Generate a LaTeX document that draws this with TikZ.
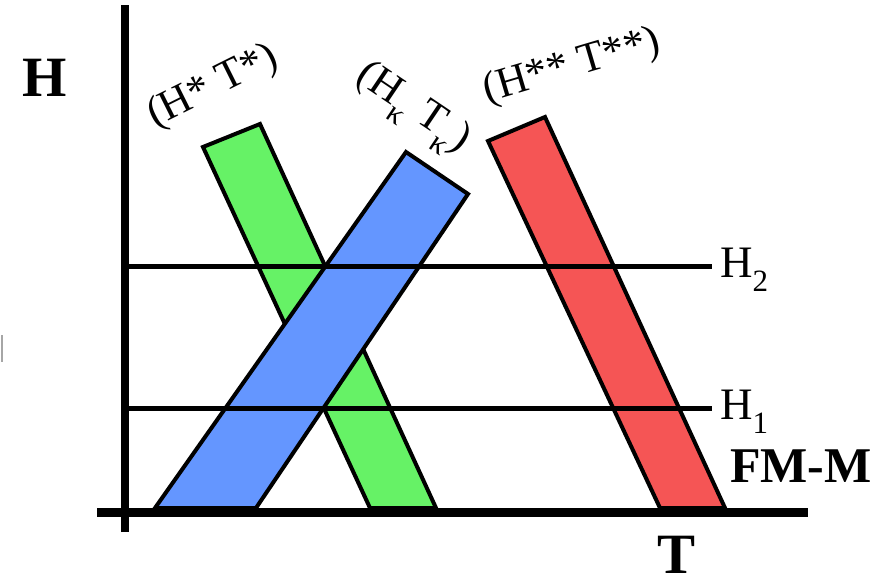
\documentclass[tikz,border=0pt]{standalone}
\usepackage{fontspec}
\setmainfont{Liberation Serif}
\usetikzlibrary{positioning}
\definecolor{bandgreen}{RGB}{102,242,102}
\definecolor{bandblue}{RGB}{100,150,255}
\definecolor{bandred}{RGB}{245,85,85}
\newcommand{\lowsub}[1]{\raisebox{-0.33em}{\fontsize{31}{31}\selectfont #1}}
\begin{document}
\begin{tikzpicture}[x=1pt,y=-1pt,band/.style={draw=black,line width=4pt,line join=miter},hline/.style={line width=5pt},lab/.style={inner sep=0pt,font=\fontsize{43}{43}\selectfont},axlab/.style={inner sep=0pt,font=\fontsize{57}{57}\selectfont\bfseries}]
\useasboundingbox (0,0) rectangle (893,585);
\draw[band,fill=bandgreen](203,147)--(260,124)--(436,508)--(370,508)--cycle;
\draw[band,fill=bandblue](155,508)--(406,152)--(468,194)--(256,508)--cycle;
\draw[band,fill=bandred](488,141)--(545,117)--(725,508)--(660,508)--cycle;
\coordinate (h2a) at (125,266);
\coordinate (h1a) at (125,408);
\node[anchor=base west,inner sep=0pt,font=\fontsize{45}{45}\selectfont] (H2) at (720,277) {H\lowsub{2}};
\node[anchor=base west,inner sep=0pt,font=\fontsize{45}{45}\selectfont] (H1) at (720,419) {H\lowsub{1}};
\draw[hline,shorten >=8pt](h2a)--(H2.west |- h2a);
\draw[hline,shorten >=8pt](h1a)--(H1.west |- h1a);
\coordinate (ytop) at (125,5);
\coordinate (ybot) at (125,532);
\coordinate (xl) at (97,512);
\coordinate (xr) at (808,512);
\draw[line width=8pt](ybot)--(ytop);
\draw[line width=9pt](xl)--(xr);
\node[axlab] (Hax) at (45,78) {H};
\node[axlab] (Tax) at (676,555) {T};
\node[inner sep=0pt,font=\fontsize{50}{50}\selectfont\bfseries] (fmm) at (801,466) {FM-M};
\node[lab,rotate=26.5] (star1) at (213,87) {(H* T*)};
\node[lab,rotate=-34] (kap) at (412,110) {(H\lowsub{κ} T\lowsub{κ})};
\node[lab,rotate=16.5] (star2) at (572,67) {(H** T**)};
\draw[gray!70,line width=2pt](2,335)--(2,362);
\end{tikzpicture}
\end{document}
